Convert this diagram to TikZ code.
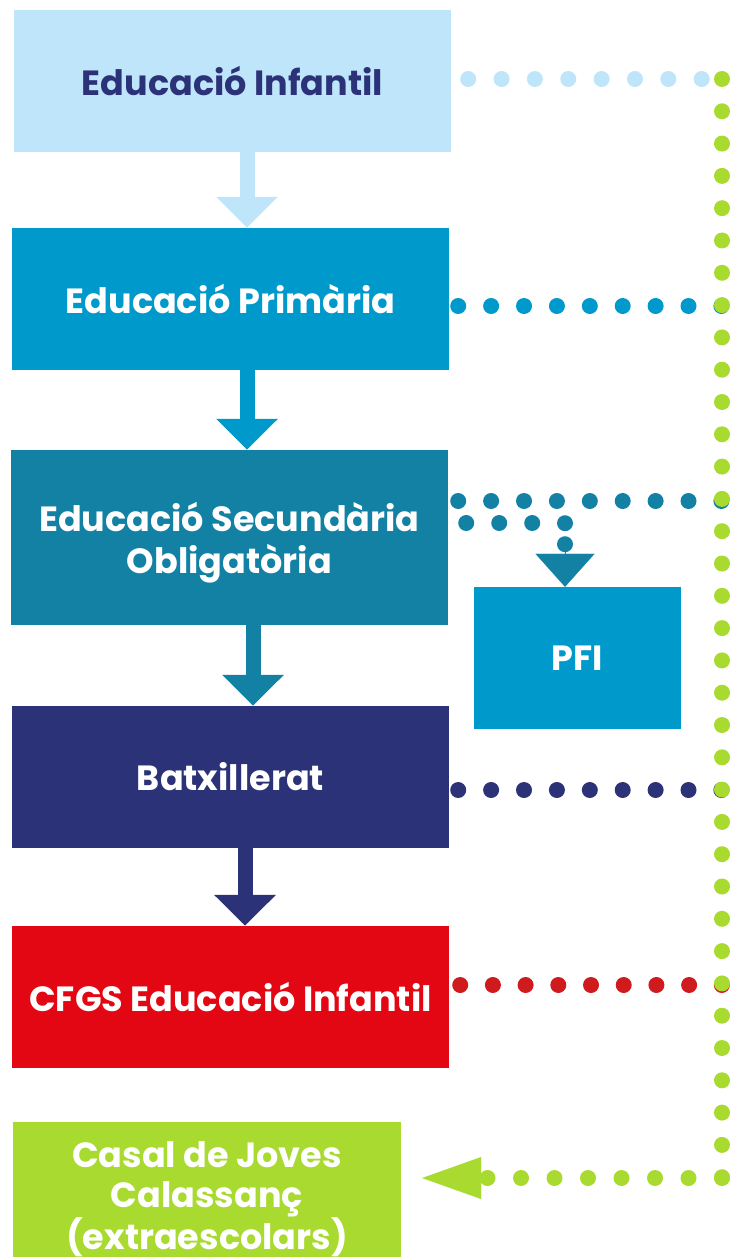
\documentclass[tikz,border=0pt]{standalone}
\usepackage{fontspec}
\setmainfont{Poppins}
\usetikzlibrary{arrows.meta,calc}

\definecolor{infblue}{HTML}{BEE5F9}
\definecolor{priblue}{HTML}{0099CB}
\definecolor{esoteal}{HTML}{1381A4}
\definecolor{batnavy}{HTML}{2B3277}
\definecolor{cfgsred}{HTML}{E30613}
\definecolor{dotred}{HTML}{CF1A1E}
\definecolor{casalgreen}{HTML}{A9DA30}

\tikzset{
  stagebox/.style={rectangle, inner sep=0pt, minimum width=437pt, minimum height=142pt,
    align=center, text=white, font=\fontsize{35}{40}\selectfont\bfseries},
  flowarrow/.style={line width=15pt, -{Triangle[width=60pt,length=31pt]}},
  dotline/.style={line width=16pt, line cap=round, dash pattern=on 0pt off 32.9pt},
  headonly/.style={line width=0.1pt}
}

\begin{document}
\begin{tikzpicture}[x=1pt, y=-1pt]
  \useasboundingbox (0,0) rectangle (731,1257);
  \clip (0,0) rectangle (731,1257);

  % stage boxes
  \node[stagebox, fill=infblue, text=batnavy] (inf) at (232.5,81) {Educació Infantil};
  \node[stagebox, fill=priblue] (pri) at (230.5,299) {Educació Primària};
  \node[stagebox, fill=esoteal, minimum height=175pt, text depth=0pt,
    font=\fontsize{35}{42}\selectfont\bfseries] (eso) at (229.5,537.5) {Educació Secundària\\Obligatòria};
  \node[stagebox, fill=priblue, minimum width=207pt] (pfi) at (577.5,658) {PFI};
  \node[stagebox, fill=batnavy] (bat) at (230.5,777) {Batxillerat};
  \node[stagebox, fill=cfgsred] (cfgs) at (230.5,997) {CFGS Educació Infantil};
  % last box, cut by the page edge
  \node[stagebox, fill=casalgreen, minimum width=388pt, minimum height=180pt, anchor=north] (casal) at (207,1122) {};
  \node[stagebox, minimum width=0pt, minimum height=0pt, anchor=north,
    font=\fontsize{35}{40}\selectfont\bfseries] (casaltext) at (207,1141) {Casal de Joves\\Calassanç\\(extraescolars)};

  % flow arrows
  \draw[flowarrow, infblue] (247,0 |- inf.south) -- (247,0 |- pri.north);
  \draw[flowarrow, priblue] (247,0 |- pri.south) -- (247,0 |- eso.north);
  \draw[flowarrow, esoteal] (253,0 |- eso.south) -- (253,0 |- bat.north);
  \draw[flowarrow, batnavy] (245,0 |- bat.south) -- (245,0 |- cfgs.north);

  % junctions on the green line
  \coordinate (jinf) at (722,79);
  \coordinate (jpri) at (722,306);
  \coordinate (jeso) at (722,501);
  \coordinate (jbat) at (722,790);
  \coordinate (jcfgs) at (722,985);
  \coordinate (jcasal) at (722,1178);
  \coordinate (pfiin) at (565,545);
  \coordinate (casalin) at (487,1178);

  % dotted rows
  \draw[dotline, infblue, dash pattern=on 0pt off 33.35pt] ($(inf.east |- jinf)+(17,0)$) -- ($(jinf)+(-20,0)$);
  \draw[dotline, priblue] ($(pri.east |- jpri)+(9,0)$) -- (jpri);
  \draw[dotline, esoteal] ($(eso.east |- jeso)+(10,0)$) -- (jeso);
  \draw[dotline, batnavy] ($(bat.east |- jbat)+(9,0)$) -- (jbat);
  \draw[dotline, dotred, dash pattern=on 0pt off 32.7pt] ($(cfgs.east |- jcfgs)+(11,0)$) -- (jcfgs);

  % dotted branch to PFI
  \draw[dotline, esoteal, dash pattern=on 0pt off 33pt on 0pt off 33pt on 0pt off 33pt on 0pt off 21pt on 0pt off 100pt]
    ($(eso.east |- 0,523)+(18,0)$) -| (pfiin);
  \draw[headonly, esoteal, -{Triangle[width=59pt,length=33pt]}] (pfiin) -- (pfiin |- pfi.north);

  % green line down to the Casal
  \draw[dotline, casalgreen, dash pattern=on 0pt off 32.3pt] (jinf) -- (jcasal);
  \draw[dotline, casalgreen, dash pattern=on 0pt off 33.5pt] (jcasal) -- (casalin);
  \draw[headonly, casalgreen, -{Triangle[width=42pt,length=59pt]}] (casalin) -- ($(casal.east |- jcasal)+(21,0)$);
\end{tikzpicture}
\end{document}
